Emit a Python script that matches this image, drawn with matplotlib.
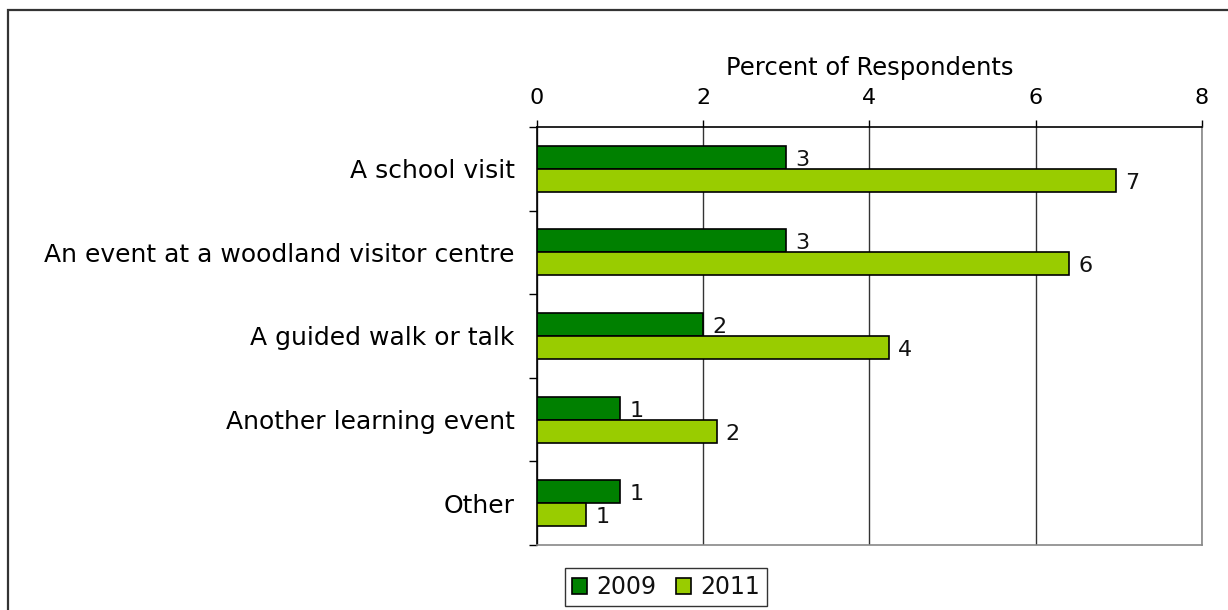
import numpy as np
import matplotlib.pyplot as plt
from matplotlib.patches import Rectangle

# Survey data: share of respondents by type of learning event
categories = ['A school visit', 'An event at a woodland visitor centre',
              'A guided walk or talk', 'Another learning event', 'Other']
pct_2009 = [3.0, 3.0, 2.0, 1.0, 1.0]
pct_2011 = [6.97, 6.4, 4.23, 2.16, 0.59]
years = ['2009', '2011']
x_ticks = [0, 2, 4, 6, 8]

plt.rcParams['font.family'] = 'DejaVu Sans'
plt.rcParams['font.size'] = 16
plt.rcParams['text.color'] = '#111111'

fig = plt.figure(figsize=(12.28, 6.10), dpi=100)
ax = fig.add_axes([0.4373, 0.1066, 0.5415, 0.6852])

# outer frame of the chart area (only left and top edges fall inside the image)
fig.patches.append(Rectangle((8 / 1228, -0.1), 1.2, 1 - 10 / 610 + 0.1,
                             transform=fig.transFigure, fill=False,
                             edgecolor='#333333', linewidth=1.6))

y = np.arange(len(categories))
h = 0.275
bars09 = ax.barh(y - h / 2, pct_2009, height=h, color='#008000',
                 edgecolor='black', linewidth=1.2, label=years[0], zorder=3)
bars11 = ax.barh(y + h / 2, pct_2011, height=h, color='#99CC00',
                 edgecolor='black', linewidth=1.2, label=years[1], zorder=3)

for bars, vals in [(bars09, pct_2009), (bars11, pct_2011)]:
    for b, v in zip(bars, vals):
        ax.text(b.get_width() + 0.11, b.get_y() + b.get_height() / 2 + 0.03,
                f'{v:.0f}', va='center', ha='left', fontsize=16)

ax.set_xlim(0, 8)
ax.set_ylim(len(categories) - 0.5, -0.5)
ax.set_xticks(x_ticks)
ax.set_yticks(np.arange(len(categories) + 1) - 0.5, minor=False)
ax.set_yticklabels([])
ax.set_yticks(y, minor=True)
ax.set_yticklabels(categories, minor=True, fontsize=18)
ax.tick_params(axis='y', which='minor', length=0, pad=16)
ax.tick_params(axis='y', which='major', length=6, width=1, direction='out')
ax.xaxis.tick_top()
ax.xaxis.set_label_position('top')
ax.tick_params(axis='x', length=5, width=1, pad=9, labelsize=16)
ax.set_xlabel('Percent of Respondents', labelpad=9, fontsize=17.5)

ax.grid(axis='x', color='#333333', linewidth=1, zorder=0)
ax.spines['top'].set_color('black')
ax.spines['left'].set_color('black')
ax.spines['right'].set_color('#888888')
ax.spines['bottom'].set_color('#888888')
for s in ax.spines.values():
    s.set_linewidth(1.2)

leg = fig.legend(loc='center', bbox_to_anchor=(666 / 1228, 1 - 587 / 610),
                 ncol=2, frameon=True, fancybox=False, edgecolor='black',
                 handlelength=0.65, handleheight=0.65, handletextpad=0.4,
                 columnspacing=0.8, borderpad=0.3, borderaxespad=0.3,
                 fontsize=17)
leg.get_frame().set_linewidth(1)

fig.savefig('out.png', dpi=100)
